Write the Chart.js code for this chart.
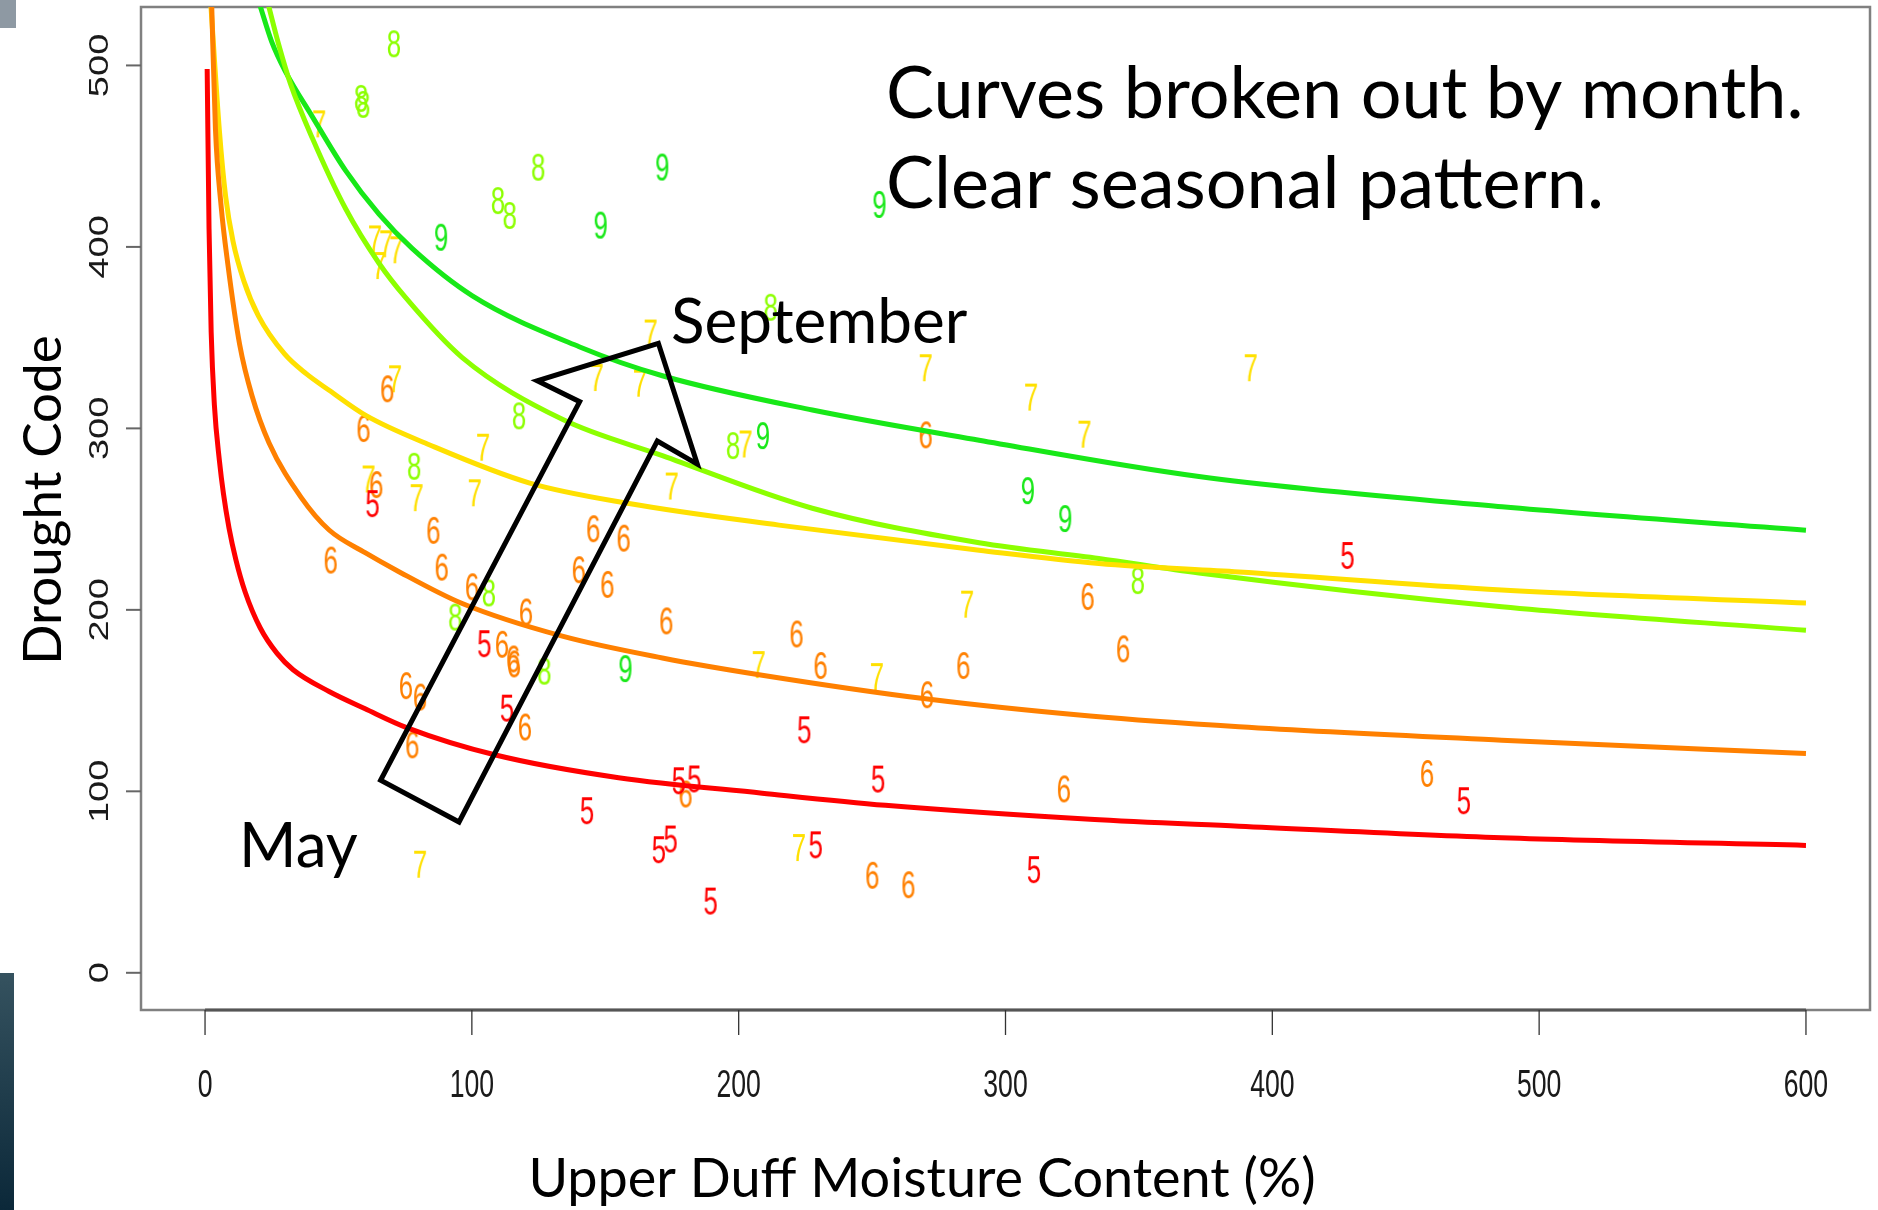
<!DOCTYPE html>
<html>
<head>
<meta charset="utf-8">
<script src="https://cdn.jsdelivr.net/npm/chart.js@4.4.1/dist/chart.umd.min.js"></script>
<style>
  html, body { margin: 0; padding: 0; background: #fff; }
  #wrap { position: relative; width: 1878px; height: 1210px; overflow: hidden; }
  #chart { position: absolute; left: 0; top: 0; }
  .deco-top { position: absolute; left: 0; top: 0; width: 16px; height: 28px; background: #8e99a3; }
  .deco-bottom { position: absolute; left: 0; top: 973px; width: 14px; height: 237px; background: linear-gradient(#35525f, #0b2839); }
</style>
</head>
<body>
<div id="wrap">
  <canvas id="chart" width="1878" height="1210"></canvas>
  <div class="deco-top"></div>
  <div class="deco-bottom"></div>
</div>
<script>
// months, each drawn as its own digit and colour
let months = [5, 6, 7, 8, 9];
let monthColors = ["#ff0000", "#ff8000", "#ffe000", "#8cff00", "#18e818"];

let xTicks = [0, 100, 200, 300, 400, 500, 600];
let yTicks = [0, 100, 200, 300, 400, 500];

// observations: upper duff moisture (%) vs drought code
let may_x = [62.8, 104.7, 113.2, 143.2, 177.6, 183.4, 170.1, 174.5, 189.5, 224.6, 228.9, 252.3, 310.7, 428.2, 471.8];
let may_y = [258.8, 181.6, 146.1, 89.6, 106.1, 107.1, 68.1, 74.0, 39.8, 134.2, 70.8, 107.0, 57.1, 230.2, 95.1];

let jun_x = [47.1, 59.4, 68.3, 64.2, 85.6, 88.7, 100.1, 75.3, 80.6, 77.7, 111.3, 115.5, 115.8, 119.9, 120.3, 145.5,
  156.9, 140.1, 150.8, 172.9, 221.7, 230.7, 270.1, 270.6, 284.2, 250.1, 263.6, 321.9, 330.8, 344.1, 458.0, 180.1];
let jun_y = [227.7, 300.2, 322.1, 269.3, 244.1, 223.8, 213.0, 158.5, 152.2, 125.9, 181.3, 173.2, 170.5, 135.7, 199.1, 245.0,
  239.8, 222.4, 214.3, 194.2, 187.0, 169.6, 296.7, 153.5, 169.6, 54.0, 48.8, 101.6, 207.6, 178.8, 110.1, 98.8];

let jul_x = [42.8, 63.7, 67.9, 71.7, 65.2, 71.2, 61.3, 79.3, 101.1, 104.2, 167.0, 146.8, 163.0, 174.9, 202.6, 207.5,
  251.8, 270.1, 285.6, 309.6, 329.6, 391.9, 80.6, 222.6];
let jul_y = [468.1, 404.7, 402.0, 398.7, 390.0, 327.6, 272.4, 262.1, 264.8, 289.9, 352.8, 328.3, 325.2, 268.5, 291.7, 170.1,
  163.5, 333.7, 203.4, 317.5, 297.1, 333.7, 60.1, 69.3];

let aug_x = [70.8, 58.5, 59.3, 124.9, 109.8, 114.2, 212.0, 197.9, 117.7, 78.4, 106.4, 93.8, 127.2, 349.6];
let aug_y = [512.2, 482.1, 478.8, 444.2, 425.8, 417.6, 367.0, 290.8, 307.2, 279.4, 209.6, 196.3, 166.5, 216.4];

let sep_x = [171.4, 148.3, 88.5, 252.8, 209.1, 157.6, 308.4, 322.4];
let sep_y = [444.3, 412.3, 405.6, 423.7, 296.3, 167.9, 266.0, 250.6];

// fitted curves
let fit5_x = [0.8, 1.5, 2.3, 3.5, 5.4, 6.9, 9, 11.5, 15, 20.7, 27, 33, 46.5, 60, 75.8, 108.9, 155, 208.8, 255, 331.7, 387.5, 486, 600];
let fit5_y = [498, 410, 353, 313, 282, 264, 245, 228, 210, 190, 176, 167, 155, 145.5, 135, 120, 107.5, 99, 92.3, 84.6, 80.8, 74.4, 70.2];

let fit6_x = [2.5, 3.9, 6, 8.5, 13, 17.6, 24, 36, 46.5, 60, 71.5, 96.4, 133.9, 171.4, 208.8, 270, 331.7, 387.5, 486, 600];
let fit6_y = [533, 465, 423, 391, 346, 318, 292, 262, 244, 231.5, 222, 203.5, 185.5, 173.5, 164, 151, 141.5, 135.6, 128.2, 120.8];

let fit7_x = [2.2, 5.4, 7.7, 10.5, 14.6, 20, 29.8, 38, 46.5, 60.4, 84, 121.4, 158.9, 215.1, 290.1, 335, 387.5, 486, 600];
let fit7_y = [533, 463.6, 428, 403, 381, 362, 341, 330, 321, 307, 291, 270, 258.6, 246.7, 232.9, 225.6, 220.9, 211, 203.8];

let fit8_x = [23.8, 27.7, 32, 40.2, 52.7, 65.2, 75.2, 96.4, 133.9, 171.4, 227.6, 290.1, 335, 372.5, 486, 600];
let fit8_y = [533, 511, 490, 460, 421, 391, 372, 339, 305, 285, 256, 237, 228.3, 220.3, 201.7, 188.7];

let fit9_x = [20.6, 25, 30, 40.2, 52.7, 65.2, 77.7, 100.2, 140.2, 171.4, 227.6, 290.1, 372.5, 486.1, 600];
let fit9_y = [533, 513, 497, 471.8, 442, 418, 399, 373, 345, 329, 310.1, 293.5, 273.5, 256.8, 243.9];

// big outlined arrow, in data units (base left, around to base right)
let arrow_x = [65.8, 140.4, 124.5, 169.9, 184.5, 169.5, 95.2];
let arrow_y = [106.1, 314.7, 326.2, 346.9, 280.3, 293.0, 83.1];

let observations = [[may_x, may_y], [jun_x, jun_y], [jul_x, jul_y], [aug_x, aug_y], [sep_x, sep_y]];
let fits = [[fit5_x, fit5_y], [fit6_x, fit6_y], [fit7_x, fit7_y], [fit8_x, fit8_y], [fit9_x, fit9_y]];

let toPoints = (xs, ys) => xs.map((x, i) => ({ x: x, y: ys[i] }));

// R-style digit used as the point marker (narrow, like the stretched original)
function digitImage(label, color) {
  let c = document.createElement("canvas");
  c.width = 24;
  c.height = 34;
  let g = c.getContext("2d");
  g.fillStyle = color;
  g.font = '38px "Liberation Sans", Arial, sans-serif';
  g.textAlign = "center";
  g.translate(12, 17 + 13.6);
  g.scale(0.68, 1);
  g.fillText(label, 0, 0);
  return c;
}

let datasets = [];
fits.forEach((f, i) => {
  datasets.push({
    type: "line",
    data: toPoints(f[0], f[1]),
    borderColor: monthColors[i],
    borderWidth: 5,
    pointRadius: 0,
    cubicInterpolationMode: "monotone",
    fill: false,
    order: 0,
  });
});
observations.forEach((o, i) => {
  datasets.push({
    type: "scatter",
    data: toPoints(o[0], o[1]),
    pointStyle: digitImage(String(months[i]), monthColors[i]),
    pointRadius: 3,
    order: 1,
  });
});

const axesAndText = {
  id: "axesAndText",
  beforeDatasetsDraw(chart) {
    let { ctx, chartArea: a, scales } = chart;
    let x = scales.x, y = scales.y;
    ctx.save();
    ctx.strokeStyle = "#808080";
    ctx.lineWidth = 2.5;
    ctx.strokeRect(a.left, a.top, a.right - a.left, a.bottom - a.top);

    ctx.strokeStyle = "#555";
    ctx.lineWidth = 3;
    ctx.beginPath();
    ctx.moveTo(x.getPixelForValue(xTicks[0]), a.bottom);
    ctx.lineTo(x.getPixelForValue(xTicks[xTicks.length - 1]), a.bottom);
    ctx.stroke();

    ctx.strokeStyle = "#333";
    ctx.lineWidth = 1.3;
    xTicks.forEach((v) => {
      let px = x.getPixelForValue(v);
      ctx.beginPath();
      ctx.moveTo(px, a.bottom);
      ctx.lineTo(px, a.bottom + 25);
      ctx.stroke();
    });
    ctx.strokeStyle = "#666";
    ctx.lineWidth = 2;
    yTicks.forEach((v) => {
      let py = y.getPixelForValue(v);
      ctx.beginPath();
      ctx.moveTo(a.left - 15, py);
      ctx.lineTo(a.left, py);
      ctx.stroke();
    });

    ctx.fillStyle = "#1a1a1a";
    ctx.font = '38px "Liberation Sans", Arial, sans-serif';
    ctx.textAlign = "center";
    xTicks.forEach((v) => {
      ctx.save();
      ctx.translate(x.getPixelForValue(v), 1083 + 13.6);
      ctx.scale(0.7, 1);
      ctx.fillText(String(v), 0, 0);
      ctx.restore();
    });
    yTicks.forEach((v) => {
      ctx.save();
      ctx.translate(98, y.getPixelForValue(v));
      ctx.rotate(-Math.PI / 2);
      ctx.scale(1, 0.72);
      ctx.fillText(String(v), 0, 13.6);
      ctx.restore();
    });
    ctx.restore();
  },
  afterDatasetsDraw(chart) {
    let { ctx, scales } = chart;
    let x = scales.x, y = scales.y;
    ctx.save();
    // arrow
    ctx.strokeStyle = "#000";
    ctx.lineWidth = 5;
    ctx.lineJoin = "miter";
    ctx.beginPath();
    arrow_x.forEach((v, i) => {
      let px = x.getPixelForValue(v), py = y.getPixelForValue(arrow_y[i]);
      if (i === 0) ctx.moveTo(px, py);
      else ctx.lineTo(px, py);
    });
    ctx.closePath();
    ctx.stroke();

    // slide text
    ctx.fillStyle = "#000";
    ctx.textAlign = "left";
    ctx.font = '72px Lato, "Open Sans", sans-serif';
    ctx.fillText("Curves broken out by month.", 886, 118);
    ctx.fillText("Clear seasonal pattern.", 886, 208);
    ctx.font = '62px Lato, "Open Sans", sans-serif';
    ctx.fillText("September", 671, 343);
    ctx.fillText("May", 239, 867);

    ctx.textAlign = "center";
    ctx.font = '54px Lato, "Open Sans", sans-serif';
    ctx.fillText("Upper Duff Moisture Content (%)", 922, 1197);
    ctx.save();
    ctx.translate(61, 500);
    ctx.rotate(-Math.PI / 2);
    ctx.font = '53px Lato, "Open Sans", sans-serif';
    ctx.fillText("Drought Code", 0, 0);
    ctx.restore();
    ctx.restore();
  },
};

let ctx = document.getElementById("chart").getContext("2d");
const chart = new Chart(ctx, {
  type: "scatter",
  data: { datasets: datasets },
  options: {
    responsive: false,
    animation: false,
    events: [],
    layout: { padding: { left: 141, top: 7, right: 8, bottom: 200 } },
    plugins: {
      legend: { display: false },
      tooltip: { enabled: false },
    },
    scales: {
      x: { type: "linear", min: -24, max: 624, display: false },
      y: { type: "linear", min: -20.5, max: 532.2, display: false },
    },
  },
  plugins: [axesAndText],
});
</script>
</body>
</html>
